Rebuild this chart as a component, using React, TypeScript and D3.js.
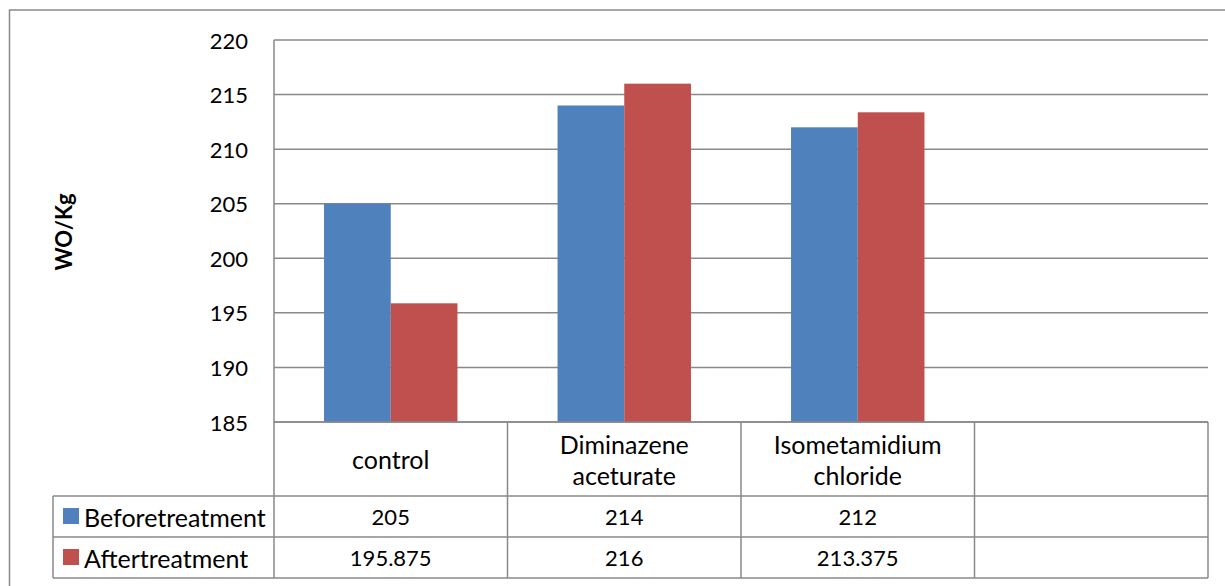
import React from "react";
import * as d3 from "d3";

// Chart data
const categories: string[][] = [["control"], ["Diminazene", "aceturate"], ["Isometamidium", "chloride"], [""]];
const seriesNames = ["Beforetreatment", "Aftertreatment"];
const beforeValues: (number | null)[] = [205, 214, 212, null];
const afterValues: (number | null)[] = [195.875, 216, 213.375, null];
const afterLabels = ["195.875", "216", "213.375", ""];
const beforeLabels = ["205", "214", "212", ""];
const yTicks = [185, 190, 195, 200, 205, 210, 215, 220];
const yTitle = "WO/Kg";

const W = 1225;
const H = 586;
const FONT = "Lato, 'Open Sans', sans-serif";
const GRID = "#898989";
const COLORS = ["#4F81BD", "#C0504D"];

export default function App() {
  const plot = { left: 274, right: 1208, top: 40, bottom: 422 };
  const tableLeft = 53;
  const rowCat = 496;
  const row1 = 537;
  const row2 = 578;

  const y = d3.scaleLinear().domain([185, 220]).range([plot.bottom, plot.top]);
  const x = d3
    .scaleBand<number>()
    .domain(categories.map((_, i) => i))
    .range([plot.left, plot.right])
    .padding(0);
  const bw = x.bandwidth();
  // gap width 150% of a bar: 2 bars + 1.5 bar = 3.5 bar widths per category
  const barW = bw / 3.5;
  const inner = d3
    .scaleBand<number>()
    .domain([0, 1])
    .range([barW * 0.75, barW * 0.75 + barW * 2])
    .padding(0);

  const series = [beforeValues, afterValues];
  const rowLabels = [beforeLabels, afterLabels];
  const numFs = 22;
  const txtFs = 25;

  return (
    <svg
      width={W}
      height={H}
      style={{ position: "absolute", left: 0, top: 0, display: "block", background: "#fff" }}
      fontFamily={FONT}
    >
      {/* outer frame */}
      <rect x={9.5} y={10} width={W} height={H} fill="none" stroke={GRID} strokeWidth={1.5} />

      {/* gridlines */}
      {yTicks.map((t) => (
        <line key={t} x1={plot.left} x2={plot.right} y1={y(t)} y2={y(t)} stroke={GRID} strokeWidth={1.5} />
      ))}

      {/* bars */}
      {series.map((vals, s) =>
        vals.map((v, i) =>
          v == null ? null : (
            <rect
              key={`${s}-${i}`}
              x={(x(i) as number) + (inner(s) as number)}
              y={y(v)}
              width={inner.bandwidth()}
              height={y(185) - y(v)}
              fill={COLORS[s]}
            />
          )
        )
      )}

      {/* y axis line */}
      <line x1={plot.left} x2={plot.left} y1={plot.top} y2={row2} stroke={GRID} strokeWidth={1.5} />

      {/* y tick labels */}
      {yTicks.map((t) => (
        <text key={t} x={248} y={y(t)} textAnchor="end" dominantBaseline="central" fontSize={numFs} fill="#000">
          {t}
        </text>
      ))}

      {/* axis title */}
      <text
        transform={`translate(63, 232) rotate(-90)`}
        textAnchor="middle"
        dominantBaseline="central"
        fontSize={22}
        fontWeight="bold"
        fill="#000"
      >
        {yTitle}
      </text>

      {/* data table lines */}
      <line x1={plot.left} x2={plot.right} y1={plot.bottom} y2={plot.bottom} stroke={GRID} strokeWidth={1.5} />
      {[rowCat, row1, row2].map((ry) => (
        <line key={ry} x1={tableLeft} x2={plot.right} y1={ry} y2={ry} stroke={GRID} strokeWidth={1.5} />
      ))}
      <line x1={tableLeft} x2={tableLeft} y1={rowCat} y2={row2} stroke={GRID} strokeWidth={1.5} />
      {categories.map((_, i) => (
        <line
          key={i}
          x1={(x(i) as number) + bw}
          x2={(x(i) as number) + bw}
          y1={plot.bottom}
          y2={row2}
          stroke={GRID}
          strokeWidth={1.5}
        />
      ))}

      {/* category labels */}
      {categories.map((lines, i) => {
        const cx = (x(i) as number) + bw / 2;
        const cy = (plot.bottom + rowCat) / 2;
        const lh = 31;
        return lines.map((ln, k) => (
          <text
            key={`${i}-${k}`}
            x={cx}
            y={cy + (k - (lines.length - 1) / 2) * lh}
            textAnchor="middle"
            dominantBaseline="central"
            fontSize={txtFs}
            fill="#000"
          >
            {ln}
          </text>
        ));
      })}

      {/* series rows */}
      {seriesNames.map((name, s) => {
        const top = s === 0 ? rowCat : row1;
        const bot = s === 0 ? row1 : row2;
        const cy = (top + bot) / 2;
        return (
          <g key={name}>
            <rect x={63} y={cy - 8.5} width={16} height={16} fill={COLORS[s]} />
            <text x={84} y={cy} dominantBaseline="central" fontSize={txtFs} fill="#000">
              {name}
            </text>
            {rowLabels[s].map((lab, i) => (
              <text
                key={i}
                x={(x(i) as number) + bw / 2}
                y={cy}
                textAnchor="middle"
                dominantBaseline="central"
                fontSize={numFs}
                fill="#000"
              >
                {lab}
              </text>
            ))}
          </g>
        );
      })}
    </svg>
  );
}
